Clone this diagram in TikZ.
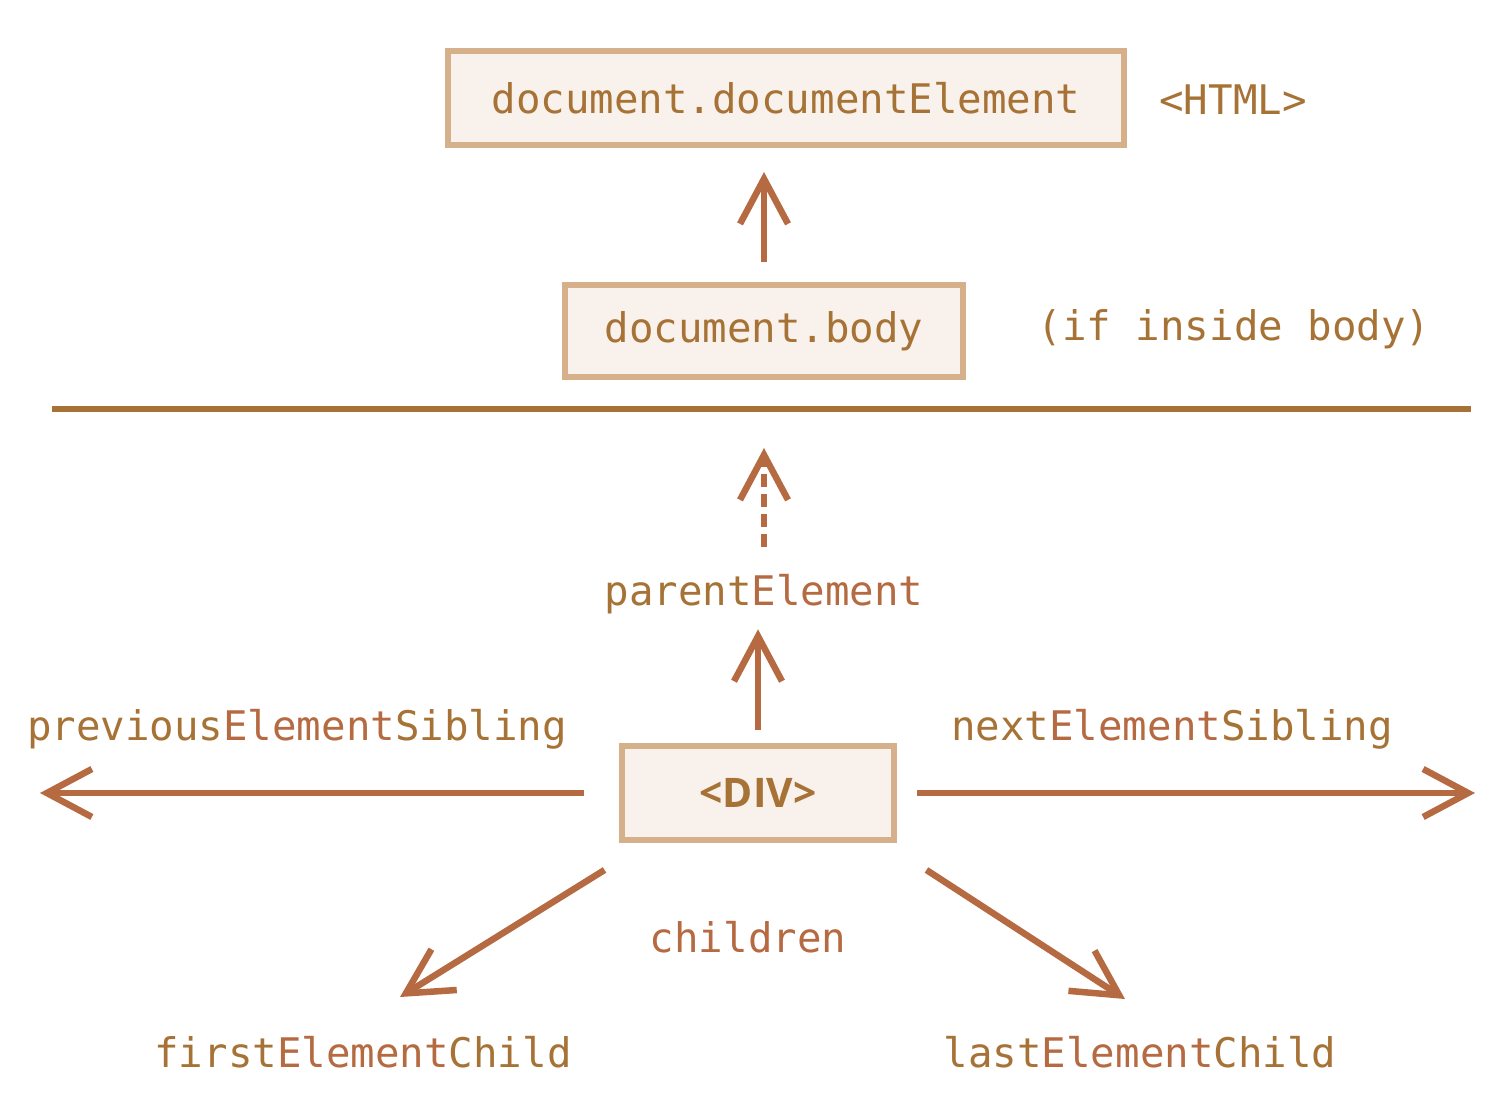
\documentclass[tikz,border=0pt]{standalone}
\usepackage{fontspec}
\usepackage{tikz}
\usetikzlibrary{positioning}
\usetikzlibrary{arrows.meta}
\usetikzlibrary{math}

\newfontfamily\codefont{DejaVu Sans Mono}
\newfontfamily\tagfont{Open Sans}
\definecolor{boxfill}{RGB}{249,241,235}
\definecolor{boxline}{RGB}{213,176,139}
\definecolor{textbrown}{RGB}{166,114,53}
\definecolor{arrowrust}{RGB}{181,106,66}
\newcommand{\elpart}{\textcolor{arrowrust}{Element}}

\begin{document}
\begin{tikzpicture}[x=0.02cm, y=-0.02cm,
    box/.style={draw=boxline, fill=boxfill, line width=0.12cm, inner sep=0pt,
      text=textbrown, font=\codefont\fontsize{23.2}{28}\selectfont},
    codetext/.style={anchor=base, inner sep=0pt, text=textbrown,
      font=\codefont\fontsize{23.2}{28}\selectfont},
    arr/.style={draw=arrowrust, line width=0.13cm,
      -{Straight Barb[length=0.9cm, width=0.96cm]}},
    rule/.style={draw=textbrown, line width=0.12cm}]
      \useasboundingbox (0,0) rectangle (1500,1104);

      % boxes
      \node[box, minimum width=13.54cm, minimum height=1.88cm] (root) at (786,98) {document.documentElement};
      \node[box, minimum width=7.96cm, minimum height=1.84cm] (body) at (764,331) {document.body};
      \node[box, minimum width=5.46cm, minimum height=1.88cm,
        font=\tagfont\bfseries\fontsize{23.2}{28}\selectfont] (div) at (758,793) {<DIV>};

      % texts
      \node[codetext] (html) at (1233,115) {<HTML>};
      \node[codetext] (ifbody) at (1234,341) {(if inside body)};
      \node[codetext] (parent) at (764,605) {parent\elpart{}};
      \node[codetext] (prev) at (297,740) {previous\elpart{}Sibling};
      \node[codetext] (next) at (1172,740) {next\elpart{}Sibling};
      \node[codetext, text=arrowrust] (children) at (748,952) {children};
      \node[codetext] (first) at (363,1067) {first\elpart{}Child};
      \node[codetext] (last) at (1140,1067) {last\elpart{}Child};

      % line between body and the rest
      \coordinate (ruleW) at (52,409);
      \coordinate (ruleM) at (764,409);
      \coordinate (ruleE) at (1471,409);
      \draw[rule] (ruleW) -- (ruleE);

      % arrows
      \draw[arr, shorten <=0.4cm, shorten >=0.48cm] (body.north) -- (body.north |- root.south);
      \draw[arr, dash pattern=on 7.4pt off 4pt, shorten <=0.52cm, shorten >=0.78cm] (parent.north) -- (ruleM);
      \draw[arr, shorten <=0.26cm, shorten >=0.31cm] (div.north) -- (div.north |- parent.south);

      \coordinate (prevEnd) at (40,793);
      \coordinate (nextEnd) at (1475,793);
      \draw[arr, shorten <=0.7cm] (div.west) -- (prevEnd);
      \draw[arr, shorten <=0.4cm] (div.east) -- (nextEnd);

      \coordinate (firstStart) at ([xshift=-0.28cm, yshift=-0.54cm]div.south west);
      \coordinate (firstEnd) at (400,997);
      \coordinate (lastStart) at ([xshift=0.58cm, yshift=-0.54cm]div.south east);
      \coordinate (lastEnd) at (1125,999);
      \draw[arr] (firstStart) -- (firstEnd);
      \draw[arr] (lastStart) -- (lastEnd);

\end{tikzpicture}
\end{document}
